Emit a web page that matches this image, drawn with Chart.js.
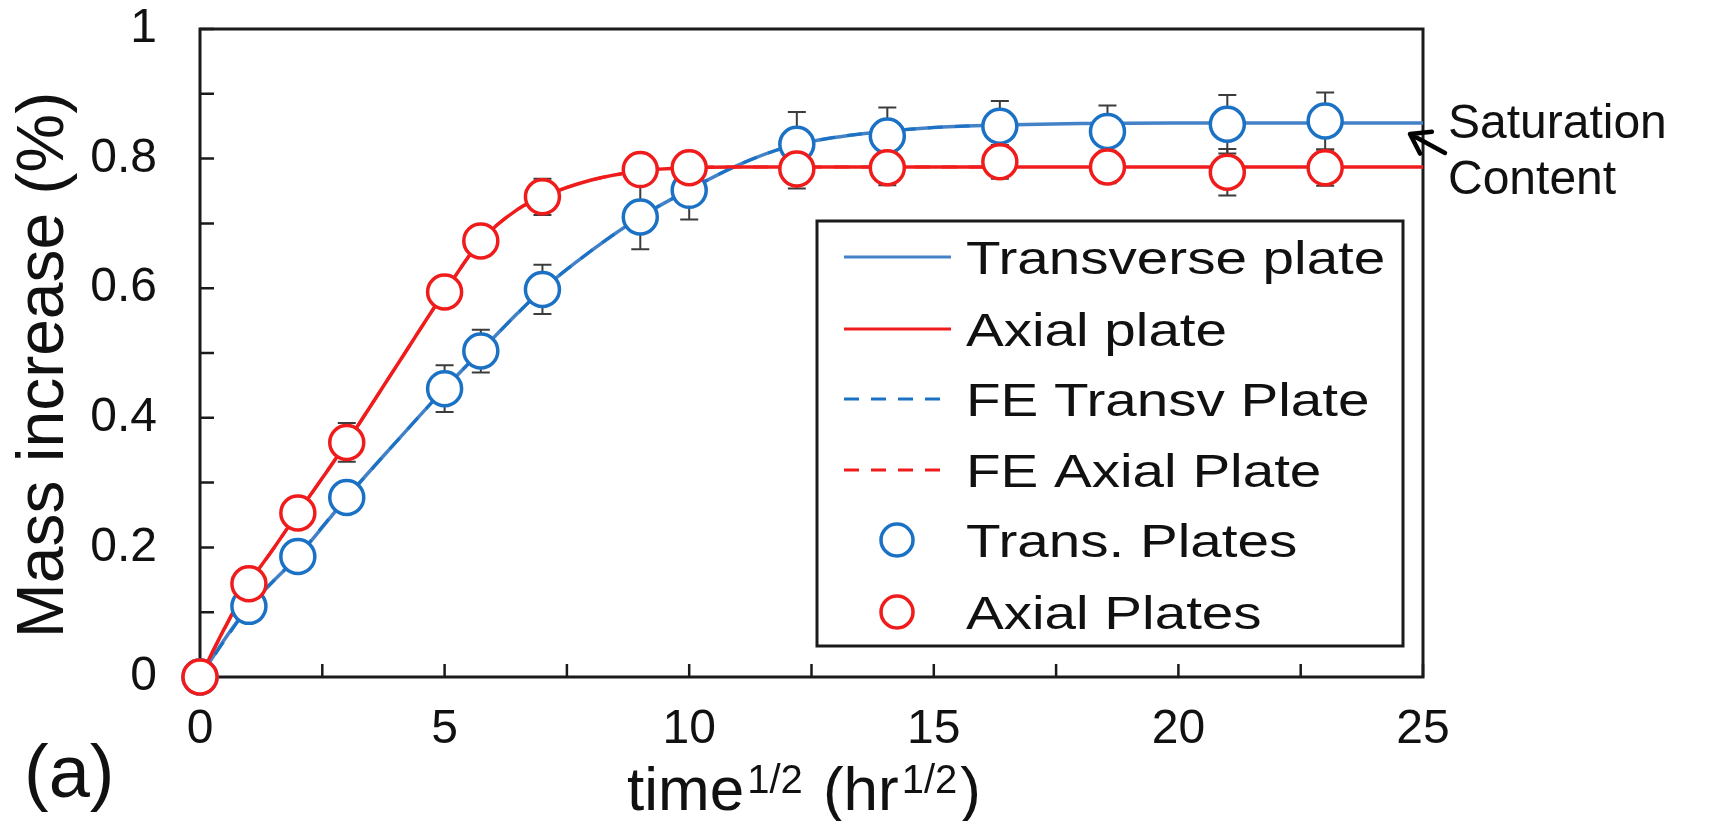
<!DOCTYPE html>
<html><head><meta charset="utf-8">
<script src="https://cdn.jsdelivr.net/npm/chart.js@4.4.1/dist/chart.umd.min.js"></script>
<style>html,body{margin:0;padding:0;background:#fff;overflow:hidden}#wrap{width:1712px;height:821px;position:relative}</style>
</head><body><div id="wrap"><canvas id="c" width="1712" height="821"></canvas></div>
<script>
// ---- data ----
const xTicks = [0, 5, 10, 15, 20, 25];
const yTicks = [0, 0.2, 0.4, 0.6, 0.8, 1];
const timeSqrt  = [0, 1, 2, 3, 5, 5.74, 7, 9, 10, 12.2, 14.05, 16.35, 18.55, 21, 23];
const transMass = [0, 0.109, 0.186, 0.277, 0.445, 0.503, 0.598, 0.710, 0.751, 0.822, 0.835, 0.850, 0.842, 0.853, 0.858];
const transErr  = [0, 0.008, 0.010, 0.012, 0.036, 0.033, 0.038, 0.050, 0.045, 0.050, 0.044, 0.039, 0.040, 0.045, 0.044];
const axialMass = [0, 0.144, 0.253, 0.362, 0.594, 0.673, 0.741, 0.783, 0.786, 0.784, 0.786, 0.795, 0.787, 0.779, 0.786];
const axialErr  = [0, 0.008, 0.010, 0.030, 0.015, 0.015, 0.028, 0.020, 0.015, 0.030, 0.027, 0.026, 0.025, 0.036, 0.028];
const fitX      = [0, 0.5, 1, 1.5, 2, 2.5, 3, 4, 5, 5.74, 6.5, 7, 8, 9, 10, 11, 12, 13, 14, 15, 16, 18, 20, 22, 25];
const transFit  = [0, 0.058, 0.109, 0.148, 0.186, 0.231, 0.277, 0.362, 0.445, 0.503, 0.562, 0.598, 0.658, 0.710, 0.752, 0.790, 0.818, 0.833, 0.842, 0.848, 0.851, 0.854, 0.855, 0.855, 0.855];
const axialFit  = [0, 0.075, 0.144, 0.198, 0.253, 0.307, 0.362, 0.478, 0.594, 0.673, 0.722, 0.741, 0.767, 0.781, 0.786, 0.787, 0.787, 0.787, 0.787, 0.787, 0.787, 0.787, 0.787, 0.787, 0.787];
const feX       = [0, 0.5, 1, 1.5, 2, 2.5, 3, 4, 5, 5.74, 6.5, 7, 8, 9, 10, 11, 12, 13, 14, 15, 16];
const feTransFit = [0, 0.056, 0.108, 0.148, 0.187, 0.232, 0.277, 0.362, 0.445, 0.503, 0.562, 0.598, 0.658, 0.710, 0.752, 0.790, 0.818, 0.833, 0.842, 0.848, 0.851];
const feAxialFit = [0, 0.074, 0.143, 0.198, 0.253, 0.307, 0.362, 0.478, 0.594, 0.673, 0.722, 0.741, 0.767, 0.781, 0.786, 0.787, 0.787, 0.787, 0.787, 0.787, 0.787];

const FONT = "'Liberation Sans', Arial, sans-serif";
const BLUE_LINE = '#4482c8', BLUE = '#1b72c4', RED = '#f01c1c', INK = '#111';
const pts = (xs, ys) => xs.map((x, i) => ({x, y: ys[i]}));

const decor = {
  id: 'decor',
  beforeDatasetsDraw(chart) {
    const {ctx, chartArea: a, scales: {x, y}} = chart;
    ctx.save();
    ctx.strokeStyle = '#1a1a1a';
    ctx.lineWidth = 2.5;
    ctx.beginPath();
    for (let v = 0; v <= 25.001; v += 2.5) {
      const px = x.getPixelForValue(v);
      ctx.moveTo(px, a.bottom); ctx.lineTo(px, a.bottom - 13);
    }
    for (let v = 0; v <= 1.0001; v += 0.1) {
      const py = y.getPixelForValue(v);
      ctx.moveTo(a.left, py); ctx.lineTo(a.left + 14, py);
    }
    ctx.stroke();
    ctx.lineWidth = 3;
    ctx.strokeRect(a.left, a.top, a.right - a.left, a.bottom - a.top);
    ctx.restore();
  },
  beforeDatasetDraw(chart, args) {
    if (args.index !== 4) return;
    const {ctx, scales: {x, y}} = chart;
    ctx.save();
    ctx.strokeStyle = '#3c3c3c';
    ctx.lineWidth = 2;
    const bars = (ys, es) => {
      ys.forEach((v, i) => {
        const e = es[i]; if (!e) return;
        const px = x.getPixelForValue(timeSqrt[i]);
        const p1 = y.getPixelForValue(v + e), p2 = y.getPixelForValue(v - e);
        ctx.beginPath();
        ctx.moveTo(px, p1); ctx.lineTo(px, p2);
        ctx.moveTo(px - 9, p1); ctx.lineTo(px + 9, p1);
        ctx.moveTo(px - 9, p2); ctx.lineTo(px + 9, p2);
        ctx.stroke();
      });
    };
    bars(transMass, transErr);
    bars(axialMass, axialErr);
    ctx.restore();
  },
  afterDraw(chart) {
    const {ctx} = chart;
    ctx.save();
    // legend
    const L = {x1: 817, y1: 221, x2: 1403, y2: 646};
    ctx.fillStyle = '#fff';
    ctx.fillRect(L.x1, L.y1, L.x2 - L.x1, L.y2 - L.y1);
    ctx.strokeStyle = '#1a1a1a'; ctx.lineWidth = 3;
    ctx.strokeRect(L.x1, L.y1, L.x2 - L.x1, L.y2 - L.y1);
    const rows = [257, 329, 399, 470, 540, 612];
    chart.data.datasets.forEach((ds, i) => {
      const ry = rows[i];
      ctx.save();
      if (ds.showLine) {
        ctx.strokeStyle = ds.borderColor; ctx.lineWidth = 3;
        ctx.setLineDash(ds.borderDash || []);
        ctx.beginPath(); ctx.moveTo(844, ry); ctx.lineTo(951, ry); ctx.stroke();
      } else {
        ctx.strokeStyle = ds.pointBorderColor; ctx.lineWidth = 3.5;
        ctx.beginPath(); ctx.arc(897, ry, 16, 0, Math.PI * 2); ctx.stroke();
      }
      ctx.restore();
      ctx.save();
      ctx.fillStyle = INK;
      ctx.font = `46px ${FONT}`;
      ctx.textBaseline = 'alphabetic';
      ctx.translate(966, ry + 16.5);
      ctx.scale(1.23, 1);
      ctx.fillText(ds.label, 0, 0);
      ctx.restore();
    });
    ctx.fillStyle = INK;
    // y title
    ctx.save();
    ctx.translate(63, 365);
    ctx.rotate(-Math.PI / 2);
    ctx.font = `66px ${FONT}`;
    ctx.textAlign = 'center';
    ctx.textBaseline = 'alphabetic';
    ctx.fillText('Mass increase (%)', 0, 0);
    ctx.restore();
    // x title with superscripts
    const parts = [['time', 62, 0, 3], ['1/2', 40, -17, 3], [' (hr', 62, 0, 3], ['1/2', 40, -17, 3], [')', 62, 0, 0]];
    let total = 0;
    parts.forEach(p => { ctx.font = `${p[1]}px ${FONT}`; p.push(ctx.measureText(p[0]).width); total += p[4] + p[3]; });
    let cx = 804 - total / 2;
    ctx.textAlign = 'left';
    ctx.textBaseline = 'alphabetic';
    parts.forEach(p => { ctx.font = `${p[1]}px ${FONT}`; ctx.fillText(p[0], cx, 810 + p[2]); cx += p[4] + p[3]; });
    // panel label
    ctx.font = `74px ${FONT}`;
    ctx.fillText('(a)', 24, 797);
    // annotation
    ctx.font = `48px ${FONT}`;
    ctx.fillText('Saturation', 1448, 138);
    ctx.fillText('Content', 1448, 194);
    ctx.strokeStyle = '#000'; ctx.lineWidth = 4.5; ctx.lineCap = 'round'; ctx.lineJoin = 'round';
    const tx = 1410, ty = 134, sx = 1445, sy = 153;
    const ang = Math.atan2(sy - ty, sx - tx);
    ctx.beginPath();
    ctx.moveTo(sx, sy); ctx.lineTo(tx, ty);
    ctx.moveTo(tx + 22 * Math.cos(ang - 0.6), ty + 22 * Math.sin(ang - 0.6)); ctx.lineTo(tx, ty);
    ctx.lineTo(tx + 22 * Math.cos(ang + 0.6), ty + 22 * Math.sin(ang + 0.6));
    ctx.stroke();
    ctx.restore();
  }
};

new Chart(document.getElementById('c'), {
  type: 'scatter',
  data: {
    datasets: [
      {label: 'Transverse plate', data: pts(fitX, transFit), showLine: true, borderColor: BLUE_LINE, borderWidth: 3.5, pointRadius: 0, cubicInterpolationMode: 'monotone', order: 10},
      {label: 'Axial plate', data: pts(fitX, axialFit), showLine: true, borderColor: RED, borderWidth: 3.5, pointRadius: 0, cubicInterpolationMode: 'monotone', order: 9},
      {label: 'FE Transv Plate', data: pts(feX, feTransFit), showLine: true, borderColor: BLUE, borderWidth: 3, borderDash: [15, 12], pointRadius: 0, cubicInterpolationMode: 'monotone', order: 8},
      {label: 'FE Axial Plate', data: pts(feX, feAxialFit), showLine: true, borderColor: RED, borderWidth: 3, borderDash: [15, 12], pointRadius: 0, cubicInterpolationMode: 'monotone', order: 7},
      {label: 'Trans. Plates', data: pts(timeSqrt, transMass), showLine: false, pointStyle: 'circle', pointRadius: 17, pointBorderWidth: 3.5, pointBackgroundColor: '#fff', pointBorderColor: BLUE, clip: false, order: 2},
      {label: 'Axial Plates', data: pts(timeSqrt, axialMass), showLine: false, pointStyle: 'circle', pointRadius: 17, pointBorderWidth: 3.5, pointBackgroundColor: '#fff', pointBorderColor: RED, clip: false, order: 1}
    ]
  },
  options: {
    responsive: false, animation: false, devicePixelRatio: 1,
    layout: {padding: {top: 29, right: 289, bottom: 0, left: 0}},
    plugins: {legend: {display: false}, tooltip: {enabled: false}},
    events: [],
    scales: {
      x: {
        type: 'linear', min: 0, max: 25,
        grid: {display: false, drawTicks: false}, border: {display: false},
        ticks: {font: {family: FONT, size: 48}, color: INK, padding: 24, maxRotation: 0, autoSkip: false, callback: v => String(v)},
        afterBuildTicks(s) { s.ticks = xTicks.map(v => ({value: v})); },
        afterFit(s) { s.height = 144; s.paddingLeft = 0; s.paddingRight = 0; }
      },
      y: {
        type: 'linear', min: 0, max: 1,
        grid: {display: false, drawTicks: false}, border: {display: false},
        ticks: {font: {family: FONT, size: 48}, color: INK, padding: 43, autoSkip: false, callback: v => String(v)},
        afterBuildTicks(s) { s.ticks = yTicks.map(v => ({value: v})); },
        afterFit(s) { s.width = 200; s.paddingTop = 0; s.paddingBottom = 0; }
      }
    }
  },
  plugins: [decor]
});
</script></body></html>
